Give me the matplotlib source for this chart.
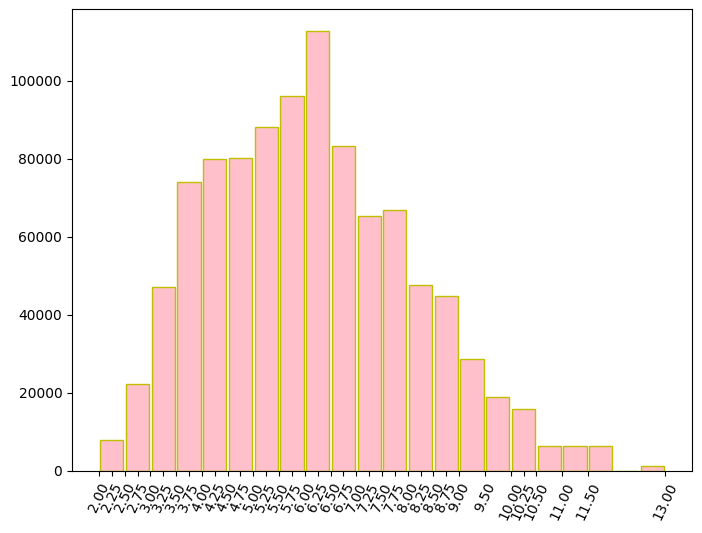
import matplotlib
matplotlib.use("Agg")
import matplotlib.pyplot as plt
import numpy as np

bin_edges = [2.0, 2.5, 3.0, 3.5, 4.0, 4.5, 5.0, 5.5, 6.0, 6.5, 7.0, 7.5, 8.0,
             8.5, 9.0, 9.5, 10.0, 10.5, 11.0, 11.5, 12.0, 12.5, 13.0]
counts = [8000, 22300, 47200, 74100, 79900, 80200, 88100, 96000, 112700, 83200,
          65300, 66800, 47600, 44800, 28600, 18900, 15800, 6400, 6400, 6400, 0, 1400]
tick_values = [2.00, 2.25, 2.50, 2.75, 3.00, 3.25, 3.50, 3.75, 4.00, 4.25, 4.50,
               4.75, 5.00, 5.25, 5.50, 5.75, 6.00, 6.25, 6.50, 6.75, 7.00, 7.25,
               7.50, 7.75, 8.00, 8.25, 8.50, 8.75, 9.00, 9.50, 10.00, 10.25,
               10.50, 11.00, 11.50, 13.00]

fig = plt.figure(figsize=(7.02, 5.33), dpi=100)
ax = fig.add_axes([72/702, 1-471/533, (692-72)/702, (471-9)/533])
centers = [(a + b) / 2 for a, b in zip(bin_edges[:-1], bin_edges[1:])]
ax.hist(centers, bins=bin_edges, weights=counts, rwidth=0.9,
        color='pink', edgecolor='y')
ax.set_xticks(tick_values)
ax.set_xticklabels([f"{v:.2f}" for v in tick_values], rotation=65)
fig.savefig("out.png", dpi=100)
